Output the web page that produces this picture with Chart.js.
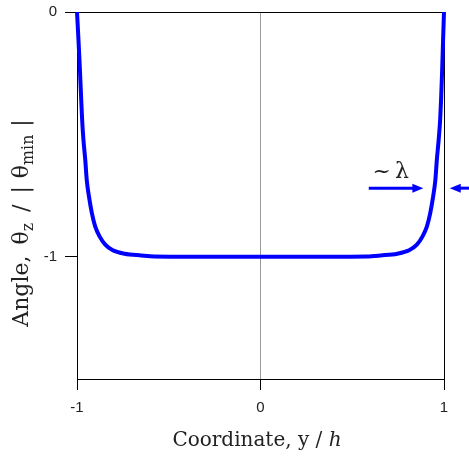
<!DOCTYPE html>
<html>
<head>
<meta charset="utf-8">
<script src="https://cdn.jsdelivr.net/npm/chart.js@4.4.1/dist/chart.umd.min.js"></script>
<style>
    html, body { margin: 0; padding: 0; background: #ffffff; }
    #wrap { width: 469px; height: 461px; }
</style>
</head>
<body>
<div id="wrap"><canvas id="angleChart"></canvas></div>
<script>
// Profile of the normalised angle across the channel
const curveX = [-1, -0.992, -0.984, -0.977, -0.972, -0.965, -0.955, -0.947, -0.932, -0.919, -0.901,
    -0.877, -0.846, -0.805, -0.741, -0.650, -0.578, -0.3, 0, 0.3, 0.578, 0.655, 0.746, 0.810,
    0.852, 0.883, 0.907, 0.925, 0.938, 0.953, 0.961, 0.971, 0.979, 0.984, 0.990, 0.995, 1];
const curveY = [0, -0.114, -0.237, -0.359, -0.441, -0.522, -0.604, -0.686, -0.767, -0.822, -0.876,
    -0.917, -0.951, -0.974, -0.988, -0.995, -0.999, -1, -1, -1, -0.999, -0.995, -0.988, -0.974,
    -0.951, -0.917, -0.876, -0.822, -0.767, -0.686, -0.604, -0.522, -0.441, -0.359, -0.237, -0.114, 0];

// "~λ" width marker: arrow shafts (heads are added at the last point)
const arrowY = -0.72;
const leftArrowX = [0.59, 0.833];
const rightArrowX = [1.14, 1.086];

// axes
const xTicks = [-1, 0, 1];
const yTicks = [0, -1];
const xRange = [-1, 1];
const yRange = [-1.5, 0];

const BLUE = '#0000ff';
const SERIF = '"DejaVu Serif", "Liberation Serif", serif';

function toPoints(xs, ys) {
    return xs.map((x, i) => ({ x: x, y: Array.isArray(ys) ? ys[i] : ys }));
}

/**
 * Arrow heads at the end of the marker shafts
 */
const arrowHeadPlugin = {
    id: 'arrowHeads',
    afterDatasetsDraw(chart) {
        const ctx = chart.ctx;
        ctx.save();
        ctx.fillStyle = BLUE;
        [1, 2].forEach(i => {
            const pts = chart.getDatasetMeta(i).data;
            const a = pts[0], b = pts[pts.length - 1];
            const dir = Math.sign(b.x - a.x);
            ctx.beginPath();
            ctx.moveTo(b.x - dir * 1, b.y - 4.5);
            ctx.lineTo(b.x + dir * 10, b.y);
            ctx.lineTo(b.x - dir * 1, b.y + 4.5);
            ctx.closePath();
            ctx.fill();
        });
        ctx.restore();
    }
};

/**
 * Draw axis titles (with subscripts) and the lambda label
 */
const titlesPlugin = {
    id: 'titles',
    afterDraw(chart) {
        const ctx = chart.ctx;
        ctx.save();
        ctx.fillStyle = '#222';
        ctx.textBaseline = 'alphabetic';

        function fontOf(p, size) {
            return (p.italic ? 'italic ' : '') + (p.sub ? size * 0.72 : size) + 'px ' + SERIF;
        }
        function drawRun(parts, size) {
            let w = 0;
            parts.forEach(p => {
                ctx.font = fontOf(p, size);
                p.w = p.gap || ctx.measureText(p.t).width;
                w += p.w;
            });
            let x = -w / 2;
            parts.forEach(p => {
                if (!p.gap) {
                    ctx.font = fontOf(p, size);
                    ctx.fillText(p.t, x, p.sub ? size * 0.22 : 0);
                }
                x += p.w;
            });
        }

        // x title
        ctx.save();
        ctx.translate(257, 446);
        drawRun([{ t: 'Coordinate, y / ' }, { t: 'h', italic: true }], 20);
        ctx.restore();

        // y title
        ctx.save();
        ctx.translate(28, 223);
        ctx.rotate(-Math.PI / 2);
        drawRun([
            { t: 'Angle,' }, { gap: 11 }, { t: 'θ' }, { t: 'z', sub: true },
            { gap: 11 }, { t: '/' }, { gap: 11 }, { t: '|' }, { gap: 8 },
            { t: 'θ' }, { t: 'min', sub: true }, { gap: 8 }, { t: '|' }
        ], 22);
        ctx.restore();

        // lambda label
        const xs = chart.scales.x, ys = chart.scales.y;
        ctx.save();
        ctx.translate(xs.getPixelForValue(0.71), ys.getPixelForValue(arrowY) - 10);
        drawRun([{ t: '~' }, { gap: 4 }, { t: 'λ' }], 22);
        ctx.restore();

        ctx.restore();
    }
};

new Chart(document.getElementById('angleChart'), {
    type: 'scatter',
    data: {
        datasets: [{
            data: toPoints(curveX, curveY),
            showLine: true,
            borderColor: BLUE,
            borderWidth: 4,
            pointRadius: 0,
            cubicInterpolationMode: 'monotone',
            clip: false
        }, {
            data: toPoints(leftArrowX, arrowY),
            showLine: true,
            borderColor: BLUE,
            borderWidth: 3,
            pointRadius: 0,
            clip: false
        }, {
            data: toPoints(rightArrowX, arrowY),
            showLine: true,
            borderColor: BLUE,
            borderWidth: 3,
            pointRadius: 0,
            clip: false
        }]
    },
    options: {
        responsive: true,
        maintainAspectRatio: false,
        animation: false,
        events: [],
        layout: { padding: { left: 0, right: 25, top: 12, bottom: 0 } },
        plugins: {
            legend: { display: false },
            tooltip: { enabled: false }
        },
        scales: {
            x: {
                type: 'linear',
                min: xRange[0],
                max: xRange[1],
                afterBuildTicks: scale => { scale.ticks = xTicks.map(v => ({ value: v })); },
                afterFit: scale => {
                    scale.height = 82;
                    scale.paddingLeft = 0;
                    scale.paddingRight = 0;
                },
                ticks: {
                    color: '#222',
                    padding: 9,
                    font: { family: '"Liberation Sans", Arial, sans-serif', size: 15 },
                    callback: v => String(v)
                },
                grid: {
                    color: c => c.tick && c.tick.value === 0 ? '#999' : (c.tick && c.tick.value === 1 ? '#000' : 'rgba(0,0,0,0)'),
                    tickColor: '#000',
                    tickLength: 11,
                    lineWidth: 1
                },
                border: { display: true, color: '#000', width: 1 }
            },
            y: {
                type: 'linear',
                min: yRange[0],
                max: yRange[1],
                afterBuildTicks: scale => { scale.ticks = yTicks.map(v => ({ value: v })); },
                afterFit: scale => {
                    scale.width = 77;
                    scale.paddingTop = 0;
                    scale.paddingBottom = 0;
                },
                ticks: {
                    color: '#222',
                    padding: 8,
                    font: { family: '"Liberation Sans", Arial, sans-serif', size: 15 },
                    callback: v => String(v)
                },
                grid: {
                    color: c => c.tick && c.tick.value === 0 ? '#000' : 'rgba(0,0,0,0)',
                    tickColor: '#000',
                    tickLength: 12,
                    lineWidth: 1
                },
                border: { display: true, color: '#000', width: 1 }
            }
        }
    },
    plugins: [arrowHeadPlugin, titlesPlugin]
});
</script>
</body>
</html>
